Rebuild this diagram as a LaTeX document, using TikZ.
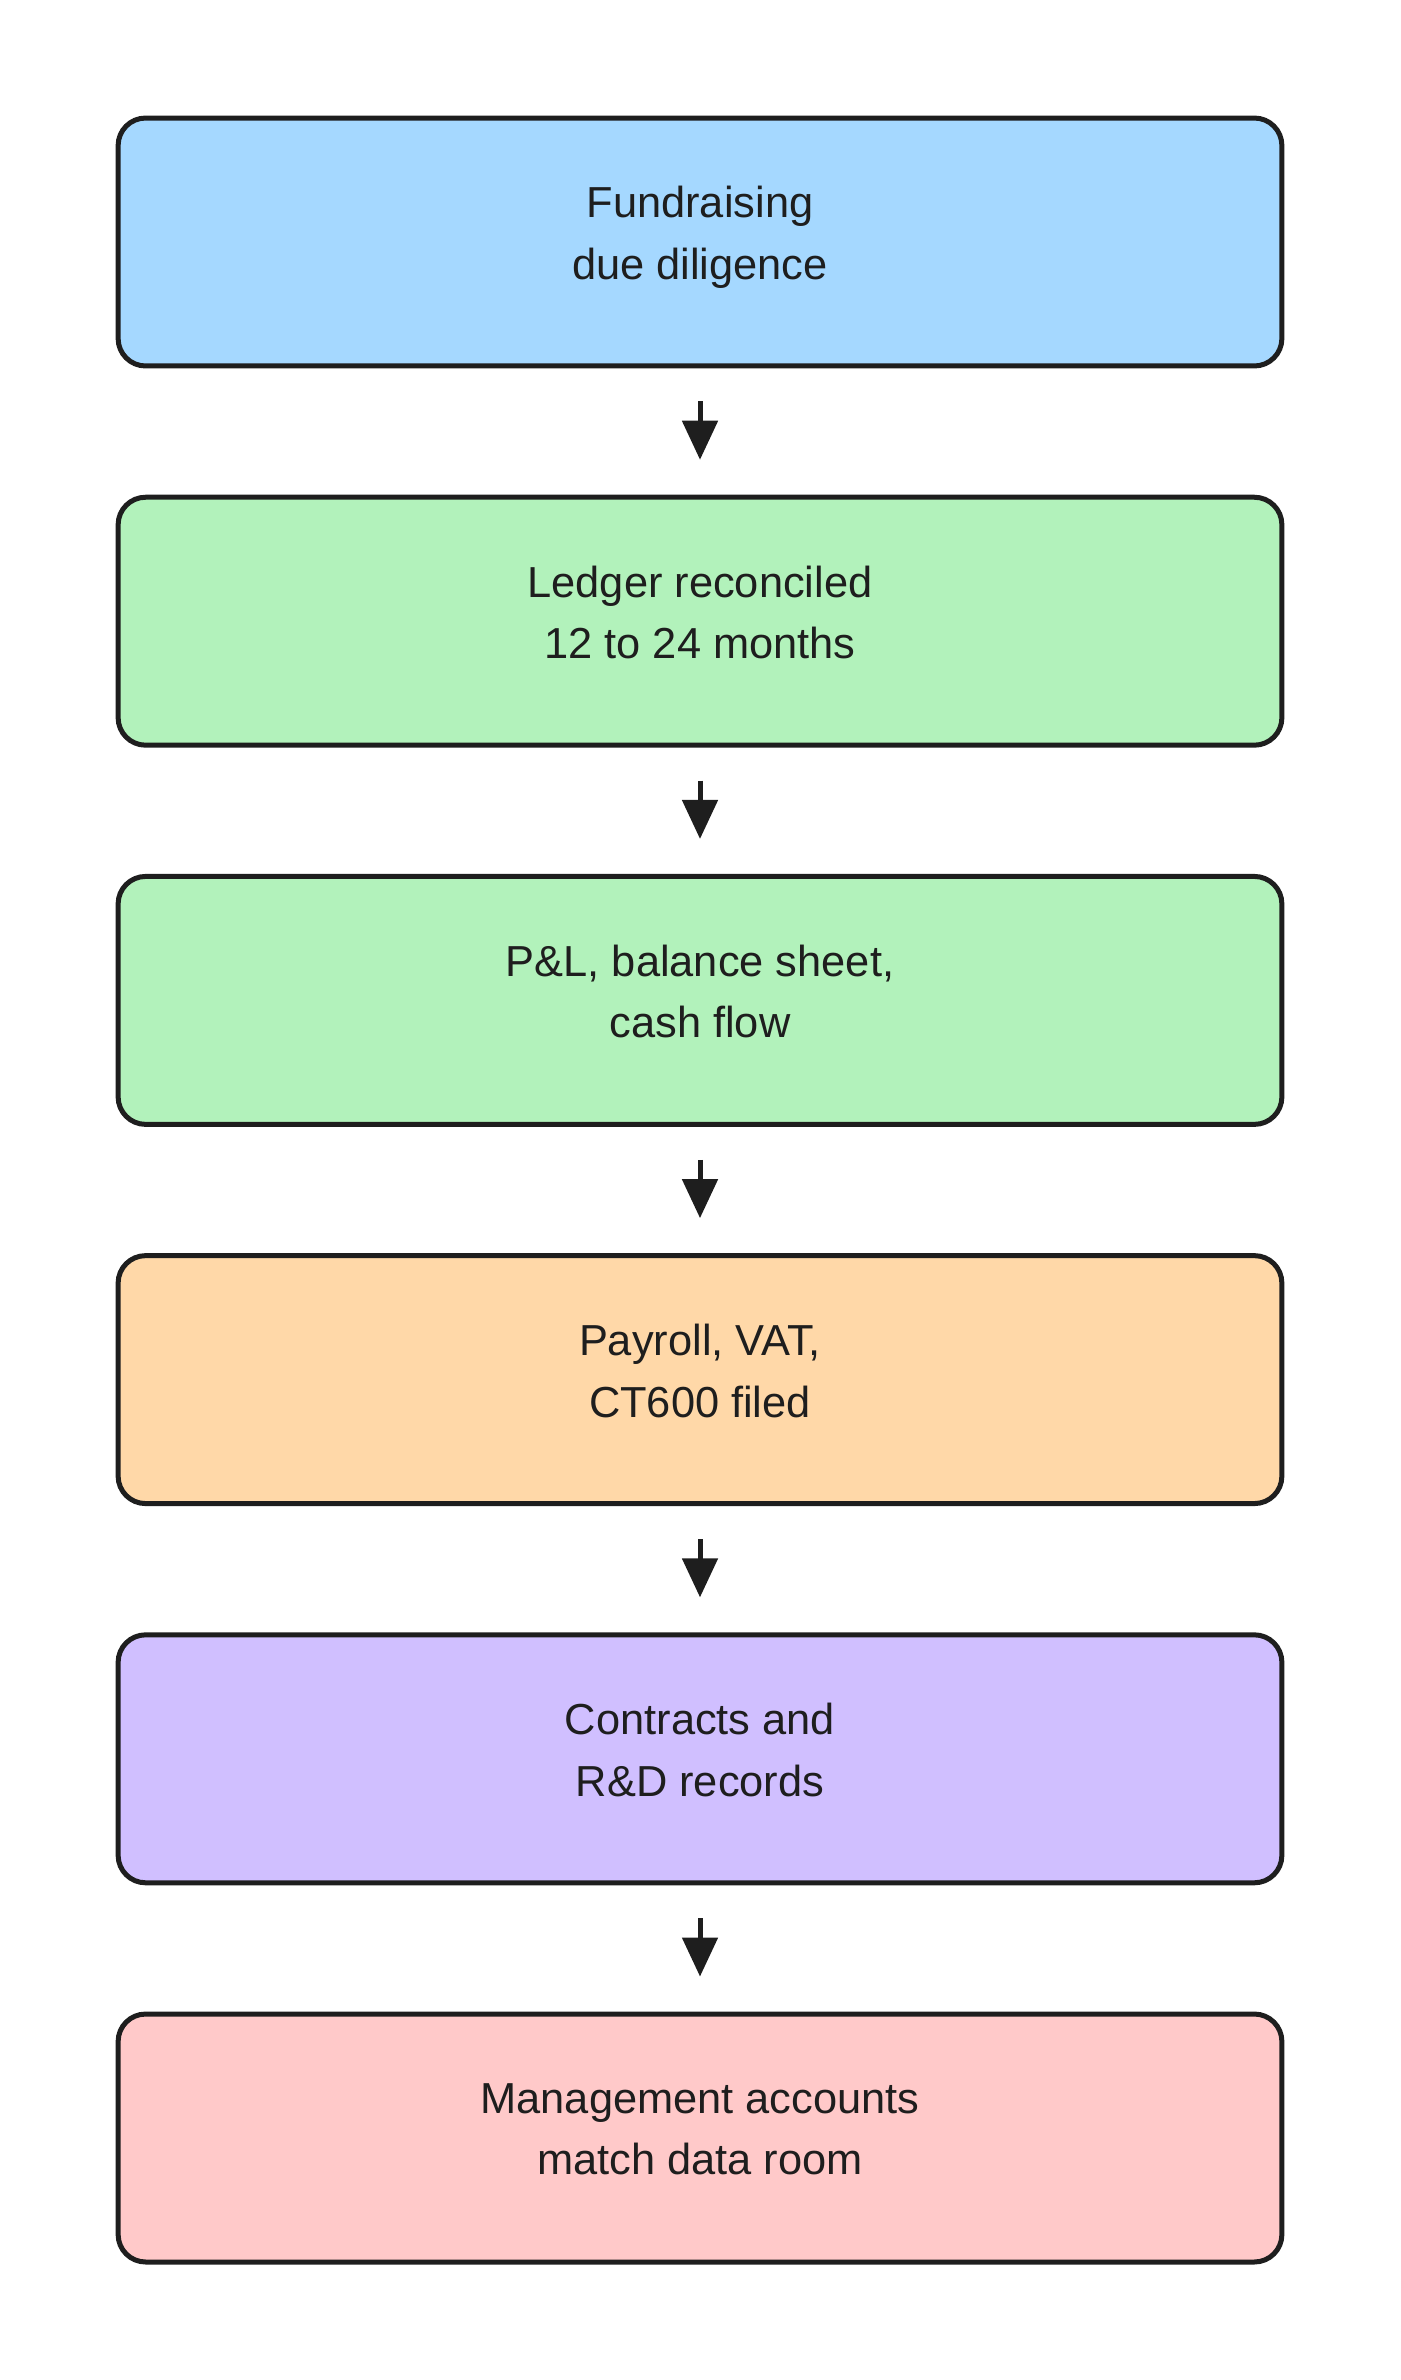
\documentclass[tikz,border=0pt]{standalone}
\usepackage{fontspec}
\setmainfont{Liberation Sans}
\usetikzlibrary{arrows.meta, positioning}
\definecolor{InkBlack}{HTML}{1e1e1e}
\definecolor{SkyBlue}{HTML}{a5d8ff}
\definecolor{MintGreen}{HTML}{b2f2bb}
\definecolor{Apricot}{HTML}{ffd8a8}
\definecolor{Lavender}{HTML}{d0bfff}
\definecolor{Blush}{HTML}{ffc9c9}

\begin{document}
\begin{tikzpicture}[x=0.02cm, y=-0.02cm,
    stage/.style={draw=InkBlack, line width=0.1cm, rounded corners=0.55cm,
        minimum width=23.28cm, minimum height=4.96cm, align=center,
        text=InkBlack, font=\fontsize{24.7}{35}\selectfont,
        execute at end node={\rule[-0.36cm]{0pt}{0.36cm}}},
    flow/.style={draw=InkBlack, line width=0.1cm,
        -{Triangle[length=0.78cm, width=0.7cm]},
        shorten <=0.66cm, shorten >=0.7cm}]
    \useasboundingbox (0, 0) rectangle (1400, 2380);

    % Stages of the checklist
    \node[stage, fill=SkyBlue]   (s1) at (700, 242)    {Fundraising\\due diligence};
    \node[stage, fill=MintGreen] (s2) at (700, 621.2)  {Ledger reconciled\\12 to 24 months};
    \node[stage, fill=MintGreen] (s3) at (700, 1000.4) {P\&L, balance sheet,\\cash flow};
    \node[stage, fill=Apricot]   (s4) at (700, 1379.6) {Payroll, VAT,\\CT600 filed};
    \node[stage, fill=Lavender]  (s5) at (700, 1758.8) {Contracts and\\R\&D records};
    \node[stage, fill=Blush]     (s6) at (700, 2138)   {Management accounts\\match data room};

    % Arrows between stages
    \foreach \a/\b in {s1/s2, s2/s3, s3/s4, s4/s5, s5/s6} {
        \draw[flow] (\a.south) -- (\b.north);
    }
\end{tikzpicture}
\end{document}
